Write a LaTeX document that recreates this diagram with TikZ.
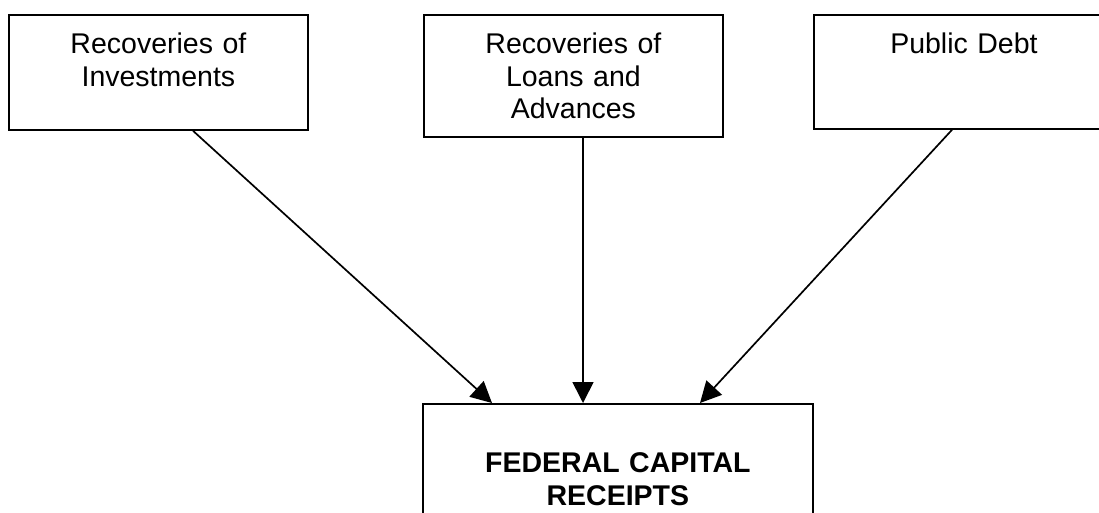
\documentclass[tikz,border=0pt]{standalone}
\usepackage{fontspec}
\setmainfont{Liberation Sans}
\usetikzlibrary{arrows.meta}

\begin{document}
\begin{tikzpicture}[x=1pt,y=-1pt,line width=1.7pt,
  source box/.style={draw,line width=1.8pt,anchor=north west,inner sep=0pt,text width=299pt,align=center,
    font=\fontsize{28.5}{32.5}\selectfont,text height=39pt},
  flow/.style={-{Triangle[length=21pt,width=21pt]}}]
\useasboundingbox (0,0) rectangle (1099,513);

\node[source box,text depth=76pt] (invest) at (8,14) {Recoveries of\\Investments};
\node[source box,text depth=83pt] (loans) at (423,14) {Recoveries of\\Loans and\\Advances};
\node[source box,text depth=75pt,text width=300pt] (debt) at (813,14) {Public Debt};

% Target
\node[source box,text width=390pt,text height=69pt,text depth=70pt,font=\fontsize{28.5}{33}\selectfont\bfseries] (receipts) at (422,403) {FEDERAL CAPITAL\\RECEIPTS};

\draw[flow] ([xshift=185pt]invest.south west) -- ([xshift=70pt]receipts.north west);
\draw[flow] ([xshift=160pt]loans.south west) -- ([xshift=161pt]receipts.north west);
\draw[flow] ([xshift=139pt]debt.south west) -- ([xshift=278pt]receipts.north west);

\end{tikzpicture}
\end{document}
